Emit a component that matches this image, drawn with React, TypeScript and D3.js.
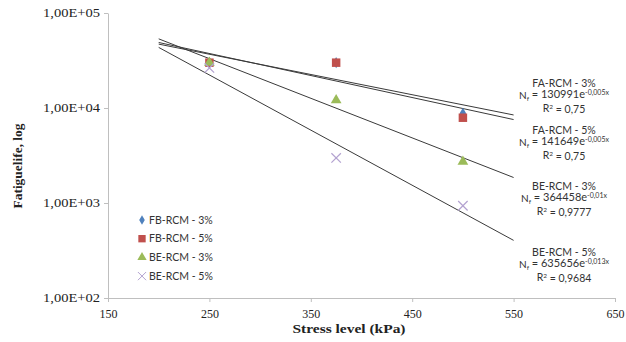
import { useEffect, useRef } from "react";
import * as d3 from "d3";

const stressLevels = [250, 375, 500];
const seriesNames = ["FB-RCM - 3%", "FB-RCM - 5%", "BE-RCM - 3%", "BE-RCM - 5%"];
const fb3Values = [30000, 30000, 8800];
const fb5Values = [30000, 30000, 7900];
const be3Values = [30000, 12100, 2720];
const be5Values = [26400, 2980, 935];
const trendRange = [200, 550];
const fitTitles = ["FA-RCM - 3%", "FA-RCM - 5%", "BE-RCM - 3%", "BE-RCM - 5%"];
const fitCoefs = ["130991", "141649", "364458", "635656"];
const fitExps = ["-0,005x", "-0,005x", "-0,01x", "-0,013x"];
const fitR2 = ["0,75", "0,75", "0,9777", "0,9684"];
const xTicks = [150, 250, 350, 450, 550, 650];
const yTicks = [100, 1000, 10000, 100000];

const colors = ["#4f81bd", "#c0504d", "#9bbb59", "#b3a2d0"];
const sans = "Lato, 'Open Sans', sans-serif";
const serif = "'Liberation Serif', 'DejaVu Serif', serif";

// least squares fit of ln(y) = ln(a) + b x, like the spreadsheet trendline
function expFit(xs: number[], ys: number[]) {
  const ly = ys.map((v) => Math.log(v));
  const mx = d3.mean(xs)!;
  const my = d3.mean(ly)!;
  let num = 0;
  let den = 0;
  xs.forEach((x, i) => {
    num += (x - mx) * (ly[i] - my);
    den += (x - mx) * (x - mx);
  });
  const b = num / den;
  const a = Math.exp(my - b * mx);
  return (x: number) => a * Math.exp(b * x);
}

export default function App() {
  const ref = useRef<SVGSVGElement>(null);

  useEffect(() => {
    const svg = d3.select(ref.current);
    svg.selectAll("*").remove();

    const x = d3.scaleLinear().domain([150, 650]).range([108, 615]);
    const y = d3.scaleLog().domain([100, 100000]).range([298, 13]);

    const allSeries = [fb3Values, fb5Values, be3Values, be5Values];

    // axes
    const xAxis = svg
      .append("g")
      .attr("transform", `translate(0,${y(100)})`)
      .call(d3.axisBottom(x).tickValues(xTicks).tickSize(4).tickSizeOuter(0));
    xAxis.select(".domain").attr("stroke", "#bfbfbf");
    xAxis.selectAll("line").attr("stroke", "#bfbfbf");
    xAxis
      .selectAll("text")
      .attr("fill", "#222")
      .attr("font-family", serif)
      .attr("font-size", 11.5)
      .attr("textLength", 18)
      .attr("lengthAdjust", "spacingAndGlyphs")
      .attr("dy", "1.1em");

    const yAxis = svg
      .append("g")
      .attr("transform", `translate(${x(150)},0)`)
      .call(
        d3
          .axisLeft(y)
          .tickValues(yTicks)
          .tickSize(4)
          .tickSizeOuter(0)
          .tickFormat((d) => `1,00E+0${Math.round(Math.log10(d as number))}`),
      );
    yAxis.select(".domain").attr("stroke", "#bfbfbf");
    yAxis.selectAll("line").attr("stroke", "#bfbfbf");
    yAxis
      .selectAll("text")
      .attr("fill", "#222")
      .attr("font-family", serif)
      .attr("font-size", 12)
      .attr("textLength", 57)
      .attr("lengthAdjust", "spacingAndGlyphs")
      .attr("x", -8);

    // trendlines
    allSeries.forEach((vals) => {
      const f = expFit(stressLevels, vals);
      svg
        .append("path")
        .datum(trendRange)
        .attr("fill", "none")
        .attr("stroke", "#3a3a3a")
        .attr("stroke-width", 1)
        .attr(
          "d",
          d3
            .line<number>()
            .x((d) => x(d))
            .y((d) => y(f(d))),
        );
    });

    // markers
    const symbols = [d3.symbolDiamond, d3.symbolSquare, d3.symbolTriangle, d3.symbolX];
    const sizes = [36, 72, 50, 60];
    allSeries.forEach((vals, i) => {
      svg
        .append("g")
        .selectAll("path")
        .data(vals)
        .join("path")
        .attr("transform", (d, j) => `translate(${x(stressLevels[j])},${y(d)})`)
        .attr("d", d3.symbol(symbols[i], sizes[i]))
        .attr("fill", i === 3 ? "none" : colors[i])
        .attr("stroke", i === 3 ? colors[i] : "none")
        .attr("stroke-width", 1.2);
    });

    // legend
    const legend = svg.append("g").attr("transform", "translate(142,220)");
    seriesNames.forEach((name, i) => {
      const row = legend.append("g").attr("transform", `translate(0,${i * 18.7})`);
      row
        .append("path")
        .attr("d", d3.symbol(symbols[i], sizes[i] * 0.75))
        .attr("fill", i === 3 ? "none" : colors[i])
        .attr("stroke", i === 3 ? colors[i] : "none")
        .attr("stroke-width", 1);
      row
        .append("text")
        .attr("x", 7)
        .attr("dy", "0.35em")
        .attr("font-family", sans)
        .attr("font-size", 10.5)
        .attr("fill", "#333")
        .text(name);
    });

    // equation labels
    const labelY = [83, 130, 186, 252];
    fitTitles.forEach((title, i) => {
      const g = svg
        .append("g")
        .attr("transform", `translate(564,${labelY[i]})`)
        .attr("font-family", sans)
        .attr("fill", "#333")
        .attr("text-anchor", "middle");
      g.append("text").attr("font-size", 10.5).attr("dy", "0.35em").text(title);
      const eq = g.append("text").attr("y", 12.5).attr("font-size", 11).attr("dy", "0.35em");
      eq.append("tspan").attr("font-size", 10).text("N");
      eq.append("tspan").attr("font-size", 6.5).attr("dy", "0.2em").text("f");
      eq.append("tspan").attr("dy", "-0.2em").text(` = ${fitCoefs[i]}e`);
      eq.append("tspan").attr("font-size", 7).attr("dy", "-0.45em").text(fitExps[i]);
      const r = g.append("text").attr("y", 25).attr("font-size", 10.5).attr("dy", "0.35em");
      r.append("tspan").text("R");
      r.append("tspan").attr("font-size", 6.5).attr("dy", "-0.4em").text("2");
      r.append("tspan").attr("dy", "0.4em").text(` = ${fitR2[i]}`);
    });

    // axis titles
    svg
      .append("text")
      .attr("x", 349)
      .attr("y", 333)
      .attr("text-anchor", "middle")
      .attr("font-family", serif)
      .attr("font-weight", "bold")
      .attr("font-size", 13)
      .attr("textLength", 113)
      .attr("lengthAdjust", "spacingAndGlyphs")
      .attr("fill", "#222")
      .text("Stress level (kPa)");
    svg
      .append("text")
      .attr("transform", "translate(17,166) rotate(-90)")
      .attr("text-anchor", "middle")
      .attr("dy", "0.35em")
      .attr("font-family", serif)
      .attr("font-weight", "bold")
      .attr("font-size", 13)
      .attr("textLength", 85)
      .attr("lengthAdjust", "spacingAndGlyphs")
      .attr("fill", "#222")
      .text("Fatiguelife, log");
  }, []);

  return (
    <div style={{ position: "fixed", left: 0, top: 0, background: "#fff" }}>
      <svg ref={ref} width={626} height={342} style={{ display: "block" }} />
    </div>
  );
}
